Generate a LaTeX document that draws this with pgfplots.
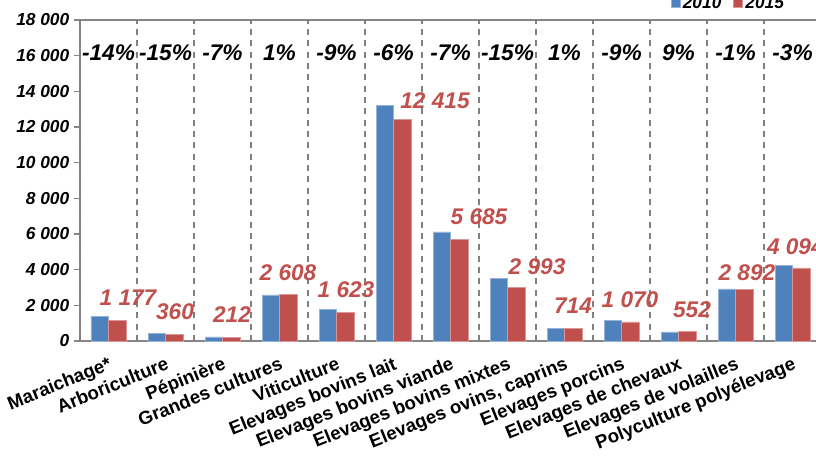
\documentclass[border=0pt]{standalone}
\usepackage{pgfplots}
\pgfplotsset{compat=1.18}
\usepackage{fontspec}
\setmainfont{Liberation Sans}
\definecolor{bblue}{HTML}{4F81BD}
\definecolor{bred}{HTML}{C0504D}
\definecolor{axgray}{HTML}{868686}
\newcommand{\pct}[2]{\node[font=\fontsize{17}{19}\selectfont\bfseries\itshape, text=black] at (axis cs:#1,16150) {#2};}
\newcommand{\val}[3]{\node[font=\fontsize{17}{19}\selectfont\bfseries\itshape, text=bred] at (axis cs:#1,#2) {#3};}
\begin{document}
\begin{tikzpicture}
\begin{axis}[
  at={(0,0)}, anchor=south west,
  scale only axis, width=555.75pt, height=240.75pt,
  xmin=-0.5, xmax=12.5, ymin=0, ymax=18000,
  ybar=0pt, bar width=13.125pt,
  axis line style={draw=axgray, line width=1pt},
  ytick={0,2000,...,18000},
  scaled y ticks=false,
  ytick pos=left, tick align=outside,
  major tick length=4.5pt,
  tick style={draw=axgray, line width=1pt},
  yticklabel style={font=\fontsize{13}{15}\selectfont\bfseries\itshape},
  /pgf/number format/.cd, 1000 sep={\ }, assume math mode=true, /pgfplots/.cd,
  xtick={0,...,12},
  xticklabels={Maraichage*,Arboriculture,Pépinière,Grandes cultures,Viticulture,Elevages bovins lait,Elevages bovins viande,Elevages bovins mixtes,{Elevages ovins, caprins},Elevages porcins,Elevages de chevaux,Elevages de volailles,Polyculture polyélevage},
  xtick pos=bottom,
  x tick style={draw=none},
  xticklabel style={rotate=22, anchor=north east, inner sep=1pt, font=\fontsize{14}{16}\selectfont\bfseries, xshift=-2pt, yshift=-5pt},
  extra x ticks={-0.5,0.5,1.5,2.5,3.5,4.5,5.5,6.5,7.5,8.5,9.5,10.5,11.5,12.5},
  extra x tick labels={},
  extra x tick style={grid=major, major grid style={draw=gray, line width=0.9pt, dash pattern=on 4.5pt off 4pt}, tick style={draw=axgray, line width=1pt}, major tick length=4.5pt},
  legend style={at={(0.797,1.053)}, anchor=west, draw=none, fill=none, legend columns=2,
    font=\fontsize{13}{15}\selectfont\bfseries\itshape, inner sep=0pt,
    /tikz/every even column/.append style={column sep=7pt}},
  legend image code/.code={\fill[#1] (0pt,-3.4pt) rectangle (6.5pt,3.4pt);},
  clip=false,
]
\addplot[fill=bblue, draw=bblue!60!white, line width=0.5pt] coordinates {
(0,1369) (1,424) (2,228) (3,2582) (4,1784) (5,13207) (6,6113) (7,3521) (8,707) (9,1176) (10,506) (11,2921) (12,4221)};
\addplot[fill=bred, draw=bred!60!white, line width=0.5pt] coordinates {
(0,1177) (1,360) (2,212) (3,2608) (4,1623) (5,12415) (6,5685) (7,2993) (8,714) (9,1070) (10,552) (11,2892) (12,4094)};
\legend{2010,2015}
\pct{0}{-14\%}\pct{1}{-15\%}\pct{2}{-7\%}\pct{3}{1\%}\pct{4}{-9\%}\pct{5}{-6\%}\pct{6}{-7\%}
\pct{7}{-15\%}\pct{8}{1\%}\pct{9}{-9\%}\pct{10}{9\%}\pct{11}{-1\%}\pct{12}{-3\%}
\val{0.342}{2410}{1 177}
\val{1.167}{1630}{360}
\val{2.167}{1460}{212}
\val{3.149}{3840}{2 608}
\val{4.167}{2860}{1 623}
\val{5.728}{13500}{12 415}
\val{6.5}{6950}{5 685}
\val{7.518}{4150}{2 993}
\val{8.149}{1990}{714}
\val{9.149}{2330}{1 070}
\val{10.237}{1770}{552}
\val{11.20}{3840}{2 892}
\val{12.05}{5270}{4 094}
\end{axis}
\pgfresetboundingbox
\useasboundingbox (-60pt,-87pt) rectangle (552pt,255.75pt);
\end{tikzpicture}
\end{document}
